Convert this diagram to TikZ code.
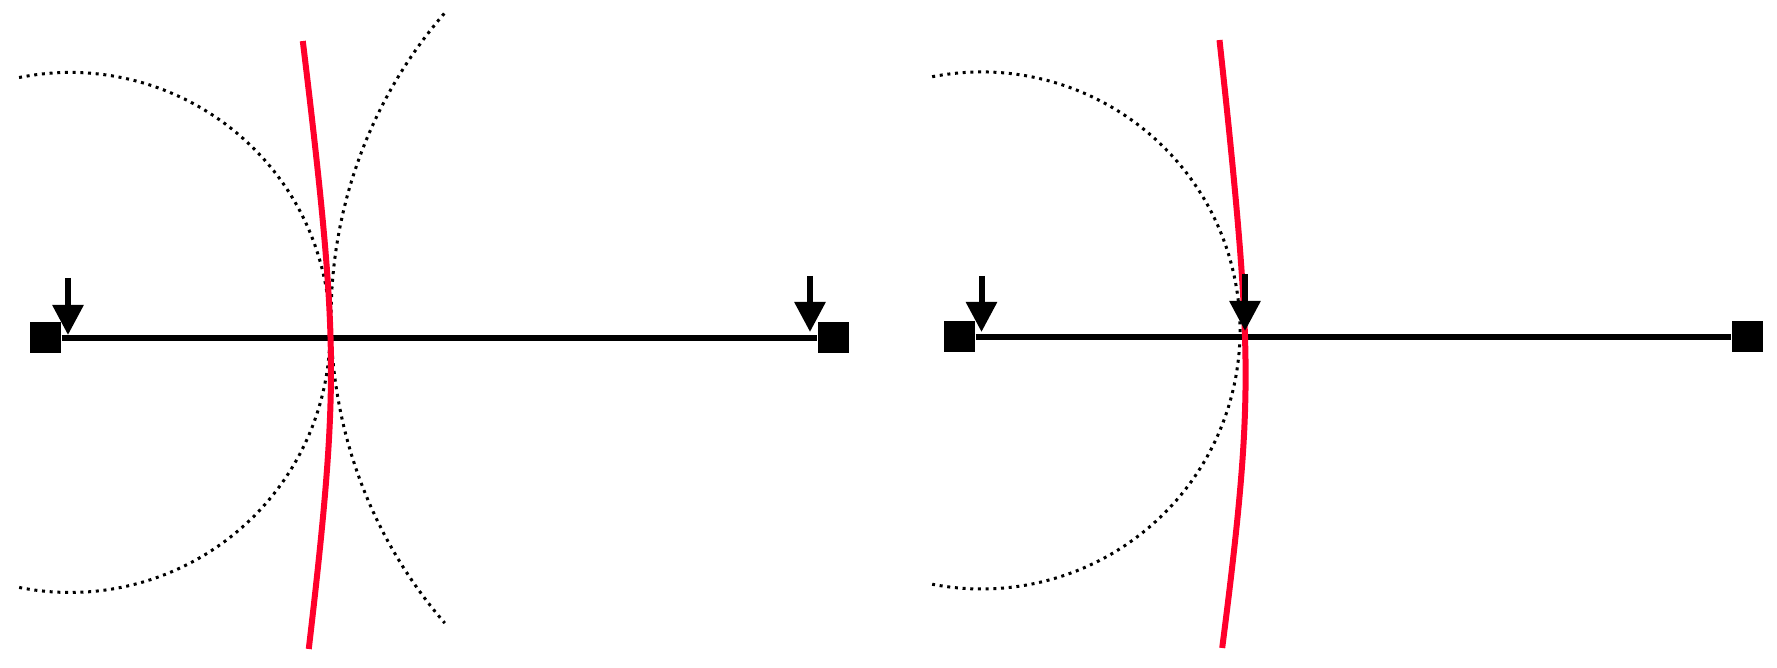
\documentclass[tikz,border=0pt]{standalone}
\usetikzlibrary{arrows.meta}
\definecolor{curvered}{RGB}{255,0,43}

\tikzset{
  sensor/.style={rectangle,fill=black,minimum size=0.31cm,inner sep=0pt},
  wire/.style={line width=0.055cm},
  arrival/.style={line width=0.06cm,-{Triangle[length=0.3cm,width=0.3cm]}},
  wave/.style={line width=0.03cm,dash pattern=on 0.03cm off 0.047cm},
  front/.style={curvered,line width=0.06cm}
}

\begin{document}
\begin{tikzpicture}
\useasboundingbox (0,0) rectangle (17.77,6.68);

% left panel
\node[sensor] (l1) at (0.455,3.30) {};
\node[sensor] (l2) at (8.335,3.30) {};
\draw[wire] (l1) -- (l2);

\draw[wave] (0.70,3.355) ++(101.3:2.6) arc[start angle=101.3,end angle=-101.3,radius=2.6];
\draw[wave] (7.97,3.50) ++(139.2:4.66) arc[start angle=139.2,end angle=220.9,radius=4.66];

\draw[front] plot[domain=-2.79:3.29,samples=60,variable=\t] ({3.31-0.2*(sqrt(1+(\t/1.5)^2)-1)},{2.98+\t});

\coordinate (la1) at (0.68,3.90);
\coordinate (lt1) at (0.68,3.33);
\coordinate (la2) at (8.10,3.92);
\coordinate (lt2) at (8.10,3.36);
\draw[arrival] (la1) -- (lt1);
\draw[arrival] (la2) -- (lt2);

% right panel
\node[sensor] (r1) at (9.595,3.31) {};
\node[sensor] (r2) at (17.47,3.31) {};
\draw[wire] (r1) -- (r2);

\draw[wave] (9.815,3.375) ++(101.0:2.585) arc[start angle=101.0,end angle=-101.0,radius=2.585];

\draw[front] plot[domain=-2.58:3.50,samples=60,variable=\t] ({12.455-0.2*(sqrt(1+(\t/1.5)^2)-1)+0.0136*\t},{2.78+\t});

\coordinate (ra1) at (9.815,3.92);
\coordinate (rt1) at (9.815,3.36);
\coordinate (ra2) at (12.45,3.94);
\coordinate (rt2) at (12.45,3.37);
\draw[arrival] (ra1) -- (rt1);
\draw[arrival] (ra2) -- (rt2);

\end{tikzpicture}
\end{document}
